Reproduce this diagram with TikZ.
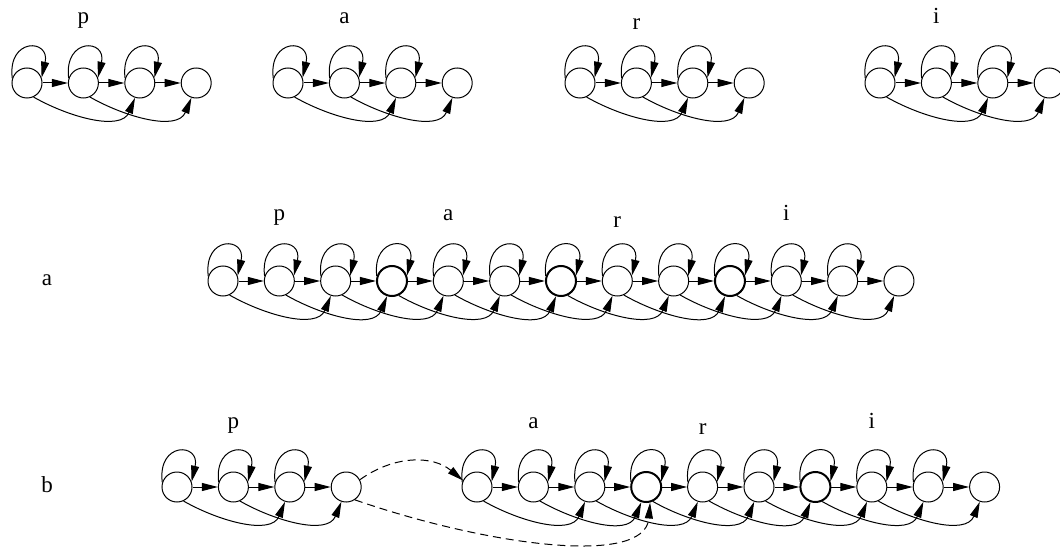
\documentclass[tikz,border=0pt]{standalone}
\usepackage{fontspec}
\setmainfont{Liberation Serif}
\usetikzlibrary{arrows.meta,calc}
\begin{document}
\begin{tikzpicture}[x=1pt,y=-1pt,
  st/.style={circle,draw,line width=1pt,minimum size=30pt,inner sep=0pt},
  arr/.style={-{Triangle[length=16pt,width=8pt]},line width=1pt},
  lbl/.style={font=\fontsize{23}{27}\selectfont,anchor=base},
  dsh/.style={arr,dash pattern=on 8pt off 5pt}]
\useasboundingbox (0,0) rectangle (1060,548);

% ---------- top row: four separate models ----------
\foreach \pre/\x in {tp/27,ta/288,tr/580,ti/880}{
  \foreach \k in {1,...,4}{
    \node[st] (\pre\k) at ({\x+(\k-1)*56.4},83) {};
  }
  \foreach \k in {1,2,3}{
    \pgfmathtruncatemacro\nk{\k+1}
    \draw[arr] (\pre\k) -- (\pre\nk);
    \draw[arr] (\pre\k.162) .. controls +(-5,-41) and +(9,-39) .. (\pre\k.20);
  }
  \foreach \k in {1,2}{
    \pgfmathtruncatemacro\nk{\k+2}
    \draw[arr] (\pre\k.-65) .. controls +(35,20) and +(-14,34) .. (\pre\nk.-108);
  }
}
\node[lbl] (ltp) at (83.4,24) {p};
\node[lbl] (lta) at (344.4,24) {a};
\node[lbl] (ltr) at (636.4,30) {r};
\node[lbl] (lti) at (936.4,24) {i};

% ---------- middle row (a) ----------
\node[lbl] (la) at (47,285) {a};
\foreach \k in {1,...,13}{
  \pgfmathsetmacro\w{(\k==4||\k==7||\k==10)?2:1}
  \node[st,line width=\w pt] (m\k) at ({223+(\k-1)*56.33},281) {};
}
\foreach \k in {1,...,12}{
  \pgfmathtruncatemacro\nk{\k+1}
  \draw[arr] (m\k) -- (m\nk);
  \draw[arr] (m\k.162) .. controls +(-5,-41) and +(9,-39) .. (m\k.20);
}
\foreach \k in {1,...,11}{
  \pgfmathtruncatemacro\nk{\k+2}
  \draw[arr] (m\k.-65) .. controls +(35,20) and +(-14,34) .. (m\nk.-108);
}
\node[lbl] (lmp) at (279.3,221) {p};
\node[lbl] (lma) at (448.3,221) {a};
\node[lbl] (lmr) at (617.3,227) {r};
\node[lbl] (lmi) at (786.3,221) {i};

% ---------- bottom row (b) ----------
\node[lbl] (lb) at (47,492) {b};
\foreach \k in {1,...,4}{
  \node[st] (bp\k) at ({177+(\k-1)*56.4},487) {};
}
\foreach \k in {1,2,3}{
  \pgfmathtruncatemacro\nk{\k+1}
  \draw[arr] (bp\k) -- (bp\nk);
  \draw[arr] (bp\k.162) .. controls +(-5,-41) and +(9,-39) .. (bp\k.20);
}
\foreach \k in {1,2}{
  \pgfmathtruncatemacro\nk{\k+2}
  \draw[arr] (bp\k.-65) .. controls +(35,20) and +(-14,34) .. (bp\nk.-108);
}
\foreach \k in {1,...,10}{
  \pgfmathsetmacro\w{(\k==4||\k==7)?2:1}
  \node[st,line width=\w pt] (bq\k) at ({477+(\k-1)*56.4},487) {};
}
\foreach \k in {1,...,9}{
  \pgfmathtruncatemacro\nk{\k+1}
  \draw[arr] (bq\k) -- (bq\nk);
  \draw[arr] (bq\k.162) .. controls +(-5,-41) and +(9,-39) .. (bq\k.20);
}
\foreach \k in {1,...,8}{
  \pgfmathtruncatemacro\nk{\k+2}
  \draw[arr] (bq\k.-65) .. controls +(35,20) and +(-14,34) .. (bq\nk.-108);
}
\draw[dsh] (bp4.28) .. controls +(35,-25) and +(-30,-25) .. (bq1.155);
\draw[dsh] (bp4.-56) .. controls +(130,45) and +(-5,65) .. (bq4.-76);
\node[lbl] (lbp) at (233.4,428) {p};
\node[lbl] (lba) at (533.4,428) {a};
\node[lbl] (lbr) at (702.6,434) {r};
\node[lbl] (lbi) at (871.8,428) {i};
\end{tikzpicture}
\end{document}
